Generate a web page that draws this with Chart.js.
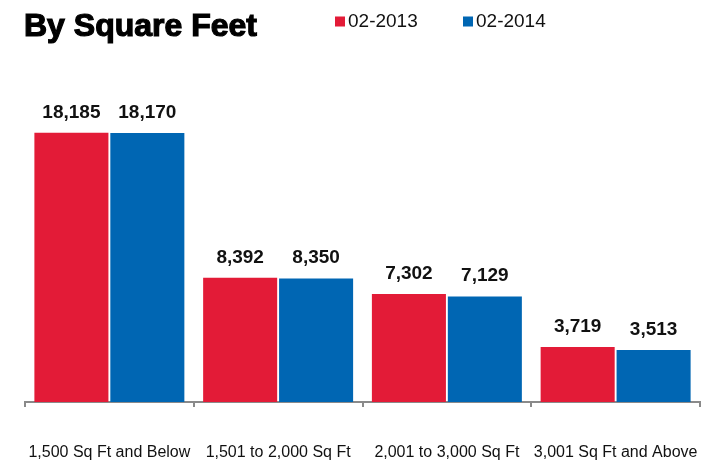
<!DOCTYPE html>
<html>
<head>
<meta charset="utf-8">
<script src="https://cdn.jsdelivr.net/npm/chart.js@4.4.1/dist/chart.umd.min.js"></script>
<style>
html,body{margin:0;padding:0;background:#fff;}
#wrap{width:707px;height:464px;position:relative;}
</style>
</head>
<body>
<div id="wrap"><canvas id="c" width="707" height="464"></canvas></div>
<script>
const chartTitle = "By Square Feet";
const categories = ["1,500 Sq Ft and Below", "1,501 to 2,000 Sq Ft", "2,001 to 3,000 Sq Ft", "3,001 Sq Ft and Above"];
const seriesNames = ["02-2013", "02-2014"];
const values2013 = [18185, 8392, 7302, 3719];
const values2014 = [18170, 8350, 7129, 3513];
const seriesColors = ["#E31B37", "#0066B3"];

const headerPlugin = {
  id: 'header',
  afterDraw(chart) {
    const ctx = chart.ctx;
    ctx.save();
    ctx.fillStyle = '#000';
    ctx.strokeStyle = '#000';
    ctx.lineWidth = 1.2;
    ctx.font = 'bold 32px "Liberation Sans", Arial, sans-serif';
    ctx.textBaseline = 'alphabetic';
    ctx.textAlign = 'left';
    ctx.fillText(chartTitle, 24, 36);
    ctx.strokeText(chartTitle, 24, 36);
    const legendX = [335, 463];
    ctx.font = '19px "Liberation Sans", Arial, sans-serif';
    seriesNames.forEach((n, i) => {
      ctx.fillStyle = seriesColors[i];
      ctx.fillRect(legendX[i], 16.5, 10, 10);
      ctx.fillStyle = '#111';
      ctx.fillText(n, legendX[i] + 13, 27);
    });
    ctx.restore();
  }
};

const valueLabelPlugin = {
  id: 'valueLabels',
  afterDatasetsDraw(chart) {
    const ctx = chart.ctx;
    ctx.save();
    ctx.font = 'bold 19px "Liberation Sans", Arial, sans-serif';
    ctx.fillStyle = '#111';
    ctx.textAlign = 'center';
    ctx.textBaseline = 'alphabetic';
    chart.data.datasets.forEach((ds, di) => {
      chart.getDatasetMeta(di).data.forEach((bar, i) => {
        ctx.fillText(ds.data[i].toLocaleString('en-US'), bar.x, bar.y - 15);
      });
    });
    ctx.restore();
  }
};

new Chart(document.getElementById('c'), {
  type: 'bar',
  data: {
    labels: categories,
    datasets: [
      { label: seriesNames[0], data: values2013, backgroundColor: seriesColors[0] },
      { label: seriesNames[1], data: values2014, backgroundColor: seriesColors[1] }
    ]
  },
  options: {
    responsive: false,
    animation: false,
    devicePixelRatio: 1,
    categoryPercentage: 0.9,
    barPercentage: 0.975,
    layout: { padding: { top: 106, left: 25, right: 7, bottom: 0 } },
    plugins: { legend: { display: false }, title: { display: false }, tooltip: { enabled: false } },
    scales: {
      y: { display: false, min: 0, max: 20000 },
      x: {
        offset: true,
        afterFit(scale) { scale.height = 62; scale.paddingLeft = 0; scale.paddingRight = 0; },
        grid: { offset: true, drawOnChartArea: false, drawTicks: true, tickLength: 5, color: '#8a8a8a', lineWidth: 2 },
        border: { display: true, color: '#8a8a8a', width: 2 },
        ticks: { color: '#111', font: { family: '"Liberation Sans", Arial, sans-serif', size: 16 }, padding: 36, maxRotation: 0, minRotation: 0, autoSkip: false }
      }
    }
  },
  plugins: [headerPlugin, valueLabelPlugin]
});
</script>
</body>
</html>
